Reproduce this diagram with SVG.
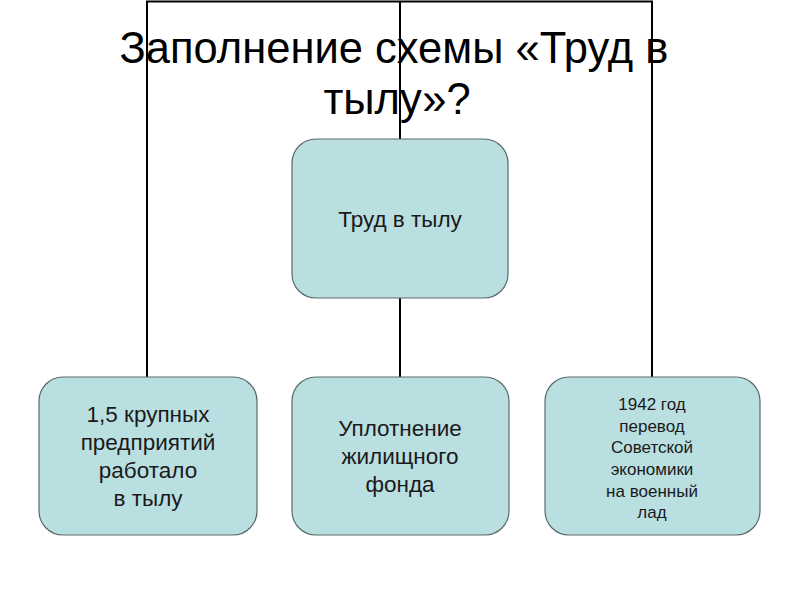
<svg xmlns="http://www.w3.org/2000/svg" width="800" height="600" viewBox="0 0 800 600">
<style>
.node rect{fill:#badfe1;stroke:#5a6a6a;stroke-width:1.2}
.node text{font-family:"Liberation Sans",Arial,sans-serif;fill:#1a1a1a;text-anchor:middle}
.t22{font-size:22.5px}
.t17{font-size:17px}
.title{font-family:"Liberation Sans",Arial,sans-serif;font-size:43.5px;fill:#000;text-anchor:middle}
#connectors path{stroke:#000;stroke-width:2;fill:none}
</style>
<rect width="800" height="600" fill="#fff"/>
<text class="title" x="394" y="63">Заполнение схемы «Труд в</text>
<text class="title" x="397" y="114">тылу»?</text>
<g id="connectors">
<path d="M147,377 V1.5 H652 V377"/>
<path d="M400,1.5 V139"/>
<path d="M400,298 V377"/>
</g>
<g id="node-root" class="node">
<rect x="292" y="139" width="216" height="159" rx="24"/>
<text class="t22" x="400" y="227">Труд в тылу</text>
</g>
<g id="node-left" class="node">
<rect x="39" y="377" width="218" height="158" rx="24"/>
<text class="t22" x="148" y="422">1,5 крупных</text>
<text class="t22" x="148" y="450">предприятий</text>
<text class="t22" x="148" y="478">работало</text>
<text class="t22" x="148" y="506">в тылу</text>
</g>
<g id="node-middle" class="node">
<rect x="292" y="377" width="217" height="158" rx="24"/>
<text class="t22" x="400" y="436">Уплотнение</text>
<text class="t22" x="400" y="464">жилищного</text>
<text class="t22" x="400" y="492">фонда</text>
</g>
<g id="node-right" class="node">
<rect x="545" y="377" width="215" height="158" rx="24"/>
<text class="t17" x="652" y="410">1942 год</text>
<text class="t17" x="652" y="432">перевод</text>
<text class="t17" x="652" y="453">Советской</text>
<text class="t17" x="652" y="475">экономики</text>
<text class="t17" x="652" y="497">на военный</text>
<text class="t17" x="652" y="518">лад</text>
</g>
</svg>
